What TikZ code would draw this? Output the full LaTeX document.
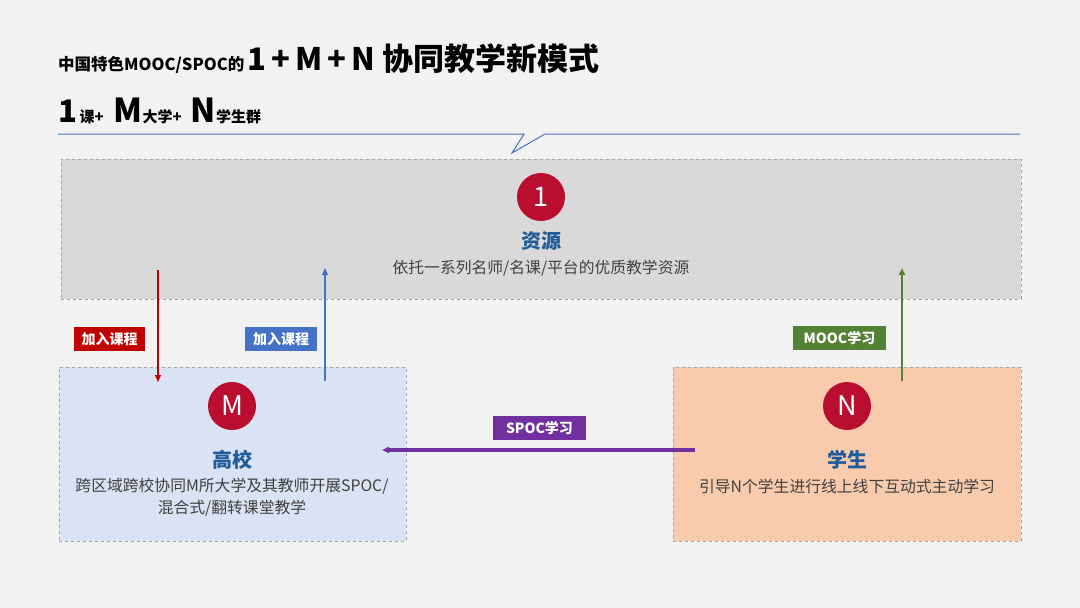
\documentclass[tikz,border=0pt]{standalone}
\usepackage{fontspec}
\setmainfont{Noto Sans CJK SC}
\usetikzlibrary{arrows.meta}
\definecolor{bg}{HTML}{F2F2F2}
\definecolor{resfill}{HTML}{D9D9D9}
\definecolor{unifill}{HTML}{DAE3F3}
\definecolor{stufill}{HTML}{F8CBAD}
\definecolor{dashgray}{HTML}{A6A6A6}
\definecolor{crimson}{HTML}{B90E2F}
\definecolor{headblue}{HTML}{1F5C99}
\definecolor{txtgray}{HTML}{404040}
\definecolor{lred}{HTML}{C00000}
\definecolor{lblue}{HTML}{4472C4}
\definecolor{lgreen}{HTML}{548235}
\definecolor{lpurple}{HTML}{7030A0}
\definecolor{linkblue}{HTML}{4472C4}
\tikzset{
  areabox/.style={draw=dashgray, dashed, line width=0.8pt, inner sep=0pt},
  badge/.style={circle, fill=crimson, minimum size=48pt, inner sep=0pt, text=white, font=\fontsize{27}{27}\selectfont},
  head/.style={text=headblue, font=\fontsize{20}{20}\selectfont\bfseries},
  desc/.style={text=txtgray, font=\fontsize{15.8}{22}\selectfont, align=center},
  tag/.style={text=white, font=\fontsize{14}{14}\selectfont\bfseries, minimum height=24pt, inner xsep=0pt, inner ysep=0pt},
  flow/.style={-{Triangle[length=7pt,width=6pt]}},
}
\begin{document}
\begin{tikzpicture}[x=1pt,y=-1pt]
\useasboundingbox (0,0) rectangle (1080,608);
\fill[bg] (0,0) rectangle (1080,608);
% title
\node[anchor=base west, inner sep=0pt] (title) at (58,70)
  {{\fontsize{16.5}{16}\selectfont\bfseries 中国特色MOOC/SPOC的}\hspace{3pt}{\fontsize{31}{31}\selectfont\bfseries 1\,+\,M\,+\,N 协同教学新模式}};
\node[anchor=base west, inner sep=0pt] (subtitle) at (58,122)
  {{\fontsize{31}{31}\selectfont\bfseries 1}{\fontsize{15}{15}\selectfont\bfseries\,课+\hspace{10pt}}{\fontsize{33}{33}\selectfont\bfseries M}{\fontsize{15}{15}\selectfont\bfseries 大学+\hspace{9pt}}{\fontsize{33}{33}\selectfont\bfseries N}{\fontsize{15}{15}\selectfont\bfseries 学生群}};
% callout line
\coordinate (l0) at (58,134);
\coordinate (l1) at (524,134);
\coordinate (l2) at (512,153);
\coordinate (l3) at (545,134);
\coordinate (l4) at (1020,134);
\draw[linkblue, line width=1pt, line join=miter] (l0) -- (l1) -- (l2) -- (l3) -- (l4);
% boxes
\node[areabox, fill=resfill, minimum width=960pt, minimum height=140pt] (res) at (541,229) {};
\node[areabox, fill=unifill, minimum width=347pt, minimum height=174pt] (uni) at (232.5,454) {};
\node[areabox, fill=stufill, minimum width=348pt, minimum height=174pt] (stu) at (847,454) {};
% resource content
\node[badge] (b1) at (541,197) {1};
\node[head] (h1) at (541,241) {资源};
\node[desc] (d1) at (541,268) {依托一系列名师/名课/平台的优质教学资源};
% university content
\node[badge] (bm) at (232,406) {M};
\node[head] (hm) at (232,460) {高校};
\node[desc] (dm) at (232,497) {跨区域跨校协同M所大学及其教师开展SPOC/\\混合式/翻转课堂教学};
% student content
\node[badge] (bn) at (847,406) {N};
\node[head] (hn) at (847,460) {学生};
\node[desc] (dn) at (847,486) {引导N个学生进行线上线下互动式主动学习};
% arrows
\coordinate (ra) at (158,270);
\coordinate (rb) at (158,382);
\coordinate (ba) at (325,381);
\coordinate (bb) at (325,268);
\coordinate (ga) at (902,381);
\coordinate (gb) at (902,268);
\coordinate (pa) at (695,450);
\coordinate (pb) at (382,450);
\draw[flow, lred, line width=1.2pt] (ra) -- (rb);
\draw[flow, lblue, line width=1.2pt] (ba) -- (bb);
\draw[flow, lgreen, line width=2.6pt] (ga) -- (gb);
\draw[flow, lpurple, line width=3.4pt] (pa) -- (pb);
% tags
\node[tag, fill=lred, minimum width=71pt] (t1) at (109.5,339) {加入课程};
\node[tag, fill=lblue, minimum width=72pt] (t2) at (281,339) {加入课程};
\node[tag, fill=lgreen, minimum width=93pt] (t3) at (839.5,338) {MOOC学习};
\node[tag, fill=lpurple, minimum width=93pt] (t4) at (539.5,428) {SPOC学习};
\end{tikzpicture}
\end{document}
